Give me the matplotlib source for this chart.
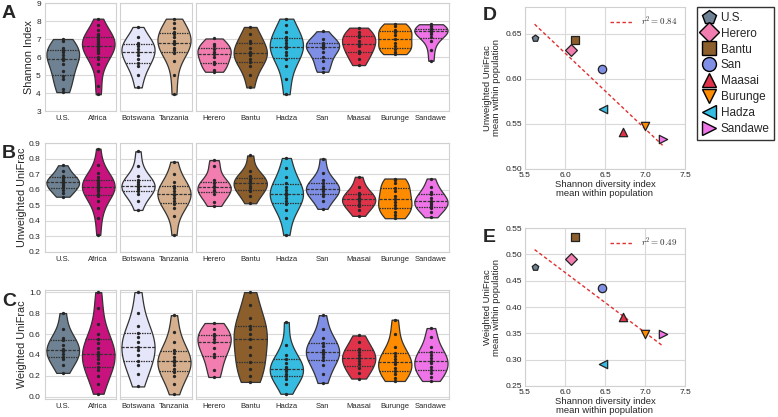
import matplotlib
matplotlib.use("Agg")
import matplotlib.pyplot as plt
from matplotlib.lines import Line2D
import numpy as np
import pandas as pd
import seaborn as sns

sns.set_style("whitegrid", {"axes.edgecolor": ".82", "grid.color": ".85", "axes.linewidth": 1.2})
plt.rcParams["font.family"] = ["Liberation Sans", "DejaVu Sans"]
plt.rcParams["mathtext.fontset"] = "cm"

# panel groups of the violin rows
panel_groups = [
    ["U.S.", "Africa"],
    ["Botswana", "Tanzania"],
    ["Herero", "Bantu", "Hadza", "San", "Maasai", "Burunge", "Sandawe"],
]

colors = {
    "U.S.": "#6f8294",
    "Africa": "#c8127e",
    "Botswana": "#e6e6fa",
    "Tanzania": "#d6b08e",
    "Herero": "#f27daf",
    "Bantu": "#8b5e2c",
    "Hadza": "#36bce0",
    "San": "#7f8fe6",
    "Maasai": "#e0334a",
    "Burunge": "#ff8c00",
    "Sandawe": "#ef74e8",
}

# per-sample values (estimated from the violins)
shannon = {
    "U.S.": [4.05, 4.2, 4.8, 4.95, 5.2, 5.6, 5.85, 5.95, 6.1, 6.3, 6.4, 6.5, 6.9, 7.0],
    "Africa": [3.93, 4.4, 5.2, 5.6, 5.9, 6.0, 6.2, 6.35, 6.45, 6.55, 6.6, 6.7, 6.8, 6.9, 7.0, 7.1, 7.2, 7.3, 7.5, 7.8, 8.13],
    "Botswana": [4.31, 5.0, 5.5, 5.65, 5.9, 6.1, 6.3, 6.45, 6.6, 6.75, 6.8, 7.1, 7.67],
    "Tanzania": [3.93, 5.0, 5.8, 6.2, 6.4, 6.5, 6.7, 6.8, 6.9, 7.1, 7.3, 7.4, 7.6, 7.9, 8.13],
    "Herero": [5.18, 5.3, 5.6, 5.75, 6.0, 6.14, 6.3, 6.45, 6.6, 6.75, 7.03],
    "Bantu": [4.31, 5.0, 5.5, 5.7, 5.9, 6.1, 6.2, 6.3, 6.5, 6.8, 6.9, 7.3, 7.67],
    "Hadza": [3.93, 4.8, 5.5, 5.9, 6.1, 6.3, 6.5, 6.6, 6.8, 6.95, 7.1, 7.4, 7.8, 8.13],
    "San": [5.18, 5.4, 5.8, 6.0, 6.3, 6.5, 6.6, 6.65, 6.75, 6.8, 7.0, 7.43],
    "Maasai": [5.55, 5.9, 6.2, 6.35, 6.6, 6.75, 6.9, 7.1, 7.2, 7.4, 7.63],
    "Burunge": [6.16, 6.3, 6.45, 6.6, 6.8, 7.0, 7.2, 7.4, 7.5, 7.7, 7.86],
    "Sandawe": [5.79, 6.4, 6.9, 7.1, 7.3, 7.4, 7.45, 7.5, 7.55, 7.6, 7.7, 7.82],
}

unweighted = {
    "U.S.": [0.555, 0.58, 0.60, 0.615, 0.63, 0.645, 0.65, 0.66, 0.675, 0.69, 0.72, 0.757],
    "Africa": [0.31, 0.42, 0.48, 0.53, 0.56, 0.575, 0.59, 0.605, 0.615, 0.62, 0.63, 0.64, 0.655, 0.665, 0.68, 0.71, 0.76, 0.864],
    "Botswana": [0.47, 0.53, 0.57, 0.59, 0.605, 0.615, 0.623, 0.635, 0.65, 0.665, 0.69, 0.75, 0.847],
    "Tanzania": [0.31, 0.43, 0.48, 0.51, 0.53, 0.55, 0.565, 0.575, 0.59, 0.61, 0.625, 0.65, 0.7, 0.78],
    "Herero": [0.496, 0.52, 0.575, 0.59, 0.6, 0.615, 0.625, 0.64, 0.66, 0.75, 0.79],
    "Bantu": [0.513, 0.56, 0.59, 0.61, 0.625, 0.64, 0.655, 0.67, 0.685, 0.72, 0.82],
    "Hadza": [0.31, 0.42, 0.47, 0.51, 0.53, 0.55, 0.565, 0.58, 0.6, 0.62, 0.64, 0.68, 0.74, 0.804],
    "San": [0.477, 0.53, 0.56, 0.575, 0.59, 0.605, 0.61, 0.625, 0.64, 0.66, 0.71, 0.80],
    "Maasai": [0.432, 0.47, 0.495, 0.51, 0.525, 0.538, 0.55, 0.565, 0.58, 0.62, 0.683],
    "Burunge": [0.417, 0.44, 0.46, 0.48, 0.5, 0.52, 0.54, 0.56, 0.59, 0.61, 0.64, 0.66, 0.672],
    "Sandawe": [0.423, 0.46, 0.48, 0.495, 0.51, 0.52, 0.53, 0.545, 0.57, 0.585, 0.62, 0.672],
}

weighted = {
    "U.S.": [0.229, 0.3, 0.36, 0.385, 0.41, 0.44, 0.46, 0.5, 0.54, 0.56, 0.65, 0.80],
    "Africa": [0.03, 0.12, 0.2, 0.26, 0.29, 0.32, 0.36, 0.39, 0.41, 0.43, 0.47, 0.51, 0.55, 0.6, 0.7, 0.85, 1.0],
    "Botswana": [0.10, 0.22, 0.3, 0.34, 0.4, 0.45, 0.48, 0.52, 0.57, 0.61, 0.68, 0.8, 1.0],
    "Tanzania": [0.025, 0.12, 0.2, 0.24, 0.27, 0.3, 0.33, 0.35, 0.38, 0.42, 0.45, 0.52, 0.62, 0.78],
    "Herero": [0.19, 0.26, 0.38, 0.41, 0.47, 0.52, 0.55, 0.58, 0.6, 0.65, 0.705],
    "Bantu": [0.143, 0.2, 0.27, 0.33, 0.4, 0.48, 0.55, 0.6, 0.65, 0.68, 0.75, 0.88, 1.0],
    "Hadza": [0.03, 0.12, 0.17, 0.2, 0.22, 0.25, 0.27, 0.29, 0.32, 0.36, 0.4, 0.5, 0.714],
    "San": [0.133, 0.22, 0.3, 0.35, 0.38, 0.41, 0.43, 0.45, 0.49, 0.51, 0.56, 0.65, 0.78],
    "Maasai": [0.175, 0.23, 0.28, 0.31, 0.34, 0.375, 0.4, 0.43, 0.46, 0.52, 0.587],
    "Burunge": [0.152, 0.18, 0.22, 0.25, 0.28, 0.31, 0.33, 0.36, 0.39, 0.42, 0.48, 0.6, 0.737],
    "Sandawe": [0.152, 0.19, 0.23, 0.26, 0.29, 0.32, 0.34, 0.37, 0.4, 0.43, 0.48, 0.57, 0.657],
}

# population means for the scatter panels
pops = ["U.S.", "Herero", "Bantu", "San", "Maasai", "Burunge", "Hadza", "Sandawe"]
shannon_mean = [5.62, 6.08, 6.12, 6.46, 6.72, 7.00, 6.47, 7.22]
unweighted_mean = [0.646, 0.632, 0.643, 0.611, 0.541, 0.548, 0.567, 0.533]
weighted_mean = [0.476, 0.491, 0.532, 0.437, 0.381, 0.348, 0.291, 0.348]
markers = {"U.S.": "p", "Herero": "D", "Bantu": "s", "San": "o",
           "Maasai": "^", "Burunge": "v", "Hadza": "<", "Sandawe": ">"}

W, H = 778, 417
fig = plt.figure(figsize=(W / 100, H / 100), dpi=100)


def fbox(x0, y0, x1, y1):
    return [x0 / W, 1 - y1 / H, (x1 - x0) / W, (y1 - y0) / H]


rows = [
    (shannon, "Shannon Index", (3, 9), np.arange(3, 10, 1), "{:.0f}", 3, 111, "A"),
    (unweighted, "Unweighted UniFrac", (0.2, 0.9), np.arange(0.2, 0.91, 0.1), "{:.1f}", 143, 252, "B"),
    (weighted, "Weighted UniFrac", (-0.02, 1.02), np.arange(0.0, 1.01, 0.2), "{:.1f}", 290, 399, "C"),
]
cols = [(45, 116), (120, 192), (196, 449)]

for data, ylabel, ylim, yticks, fmt, top, bottom, letter in rows:
    for i, (groups, (x0, x1)) in enumerate(zip(panel_groups, cols)):
        ax = fig.add_axes(fbox(x0, top, x1, bottom))
        df = pd.DataFrame([(g, v) for g in groups for v in data[g]], columns=["group", "value"])
        sns.violinplot(data=df, x="group", y="value", hue="group", order=groups,
                       palette={g: colors[g] for g in groups}, legend=False,
                       inner="quart", cut=0, density_norm="count", width=0.92, saturation=1,
                       linewidth=0.9, linecolor="#333333", ax=ax)
        sns.stripplot(data=df, x="group", y="value", order=groups, jitter=False,
                      color="#262626", size=2.4, ax=ax)
        ax.set_ylim(*ylim)
        ax.set_yticks(yticks)
        ax.xaxis.grid(False)
        ax.set_xlabel("")
        ax.set_ylabel("")
        ax.tick_params(axis="x", labelsize=5.5, length=0, pad=3)
        ax.tick_params(axis="y", labelsize=6, length=0, pad=3)
        if i == 0:
            ax.set_yticklabels([fmt.format(t) for t in yticks])
            ax.set_ylabel(ylabel, fontsize=7.8, labelpad=1.5)
        else:
            ax.set_yticklabels([])
    fig.text(2 / W, 1 - (top + 11) / H, letter, fontsize=14, weight="bold", va="center")

# scatter panels
scatter_rows = [
    (unweighted_mean, "Unweighted UniFrac\nmean within population", (0.50, 0.68),
     np.arange(0.50, 0.66, 0.05), 7, 169, "D", "0.84"),
    (weighted_mean, "Weighted UniFrac\nmean within population", (0.25, 0.55),
     np.arange(0.25, 0.56, 0.05), 228, 386, "E", "0.49"),
]
for ymeans, ylabel, ylim, yticks, top, bottom, letter, r2 in scatter_rows:
    ax = fig.add_axes(fbox(525, top, 685, bottom))
    for p, x, y in zip(pops, shannon_mean, ymeans):
        ax.scatter(x, y, marker=markers[p], s=24 if p == "U.S." else 36, color=colors[p],
                   edgecolor="#222222", linewidth=0.9, zorder=3)
    m, b = np.polyfit(shannon_mean, ymeans, 1)
    xs = np.array([min(shannon_mean), max(shannon_mean)])
    ax.plot(xs, m * xs + b, color="#e03030", lw=1.0, dashes=(2.5, 1.8),
            label=r"$r^2 = " + r2 + "$", zorder=2)
    ax.legend(loc="upper right", frameon=False, fontsize=6.5, handlelength=2.6)
    ax.set_xlim(5.5, 7.5)
    ax.set_xticks(np.arange(5.5, 7.51, 0.5))
    ax.set_ylim(*ylim)
    ax.set_yticks(yticks)
    ax.set_yticklabels(["{:.2f}".format(t) for t in yticks])
    ax.tick_params(labelsize=6, length=0, pad=2)
    ax.set_xlabel("Shannon diversity index\nmean within population", fontsize=6.8, labelpad=1,
                  linespacing=1.0)
    ax.set_ylabel(ylabel, fontsize=6.8, labelpad=3, linespacing=1.0)
    fig.text(483 / W, 1 - (top + 9) / H, letter, fontsize=14, weight="bold", va="center")

handles = [Line2D([], [], linestyle="", marker=markers[p], markersize=10, markerfacecolor=colors[p],
                  markeredgecolor="black", markeredgewidth=1.0) for p in pops]
fig.legend(handles, pops, loc="upper left", bbox_to_anchor=(697 / W, 1 - 7 / H),
           frameon=True, fancybox=False, edgecolor="black", fontsize=8.5,
           handletextpad=0.4, borderpad=0.4, labelspacing=0.33, handlelength=1.2,
           borderaxespad=0)

fig.savefig("out.png", dpi=100)
